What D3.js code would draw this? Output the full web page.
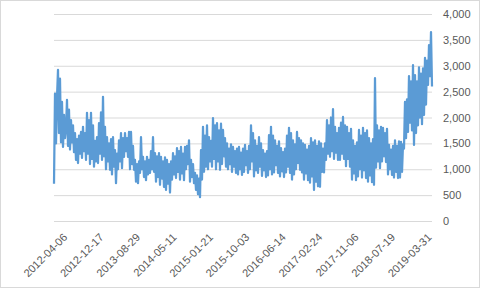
<!DOCTYPE html>
<html>
<head>
<meta charset="utf-8">
<script src="https://cdn.jsdelivr.net/npm/d3@7"></script>
<style>
  html, body { margin: 0; padding: 0; background: #fff; }
  svg { display: block; font-family: "Liberation Sans", Arial, sans-serif; }
</style>
</head>
<body>
<div class="chart-container"></div>
<script>
// Weekly readings, first week 2012-04-06
var startDate = "2012-04-06";
var weeklyValues = [
    720, 2460, 1500, 2380,
    2920, 1700, 2750, 1520,
    2300, 1430, 2050, 1600,
    1780, 2340, 1450, 2150,
    1380, 1950, 1520, 1850, 1330,
    1700, 1180, 1580, 1120, 1650, 1300, 1720,
    1220, 1820, 1350, 1700,
    1180, 2090, 1300, 1950,
    1100, 2090, 1200, 1850,
    1050, 1550, 1150, 1620,
    1120, 1890, 1300, 2100, 1180,
    2400, 1250, 1820,
    1000, 1620, 1150, 1500, 990, 1580,
    900, 1620, 1050, 1370, 730, 1300,
    1000, 1560, 1150, 1700, 1020, 1600,
    1240, 1700, 1350, 1600, 1240, 1720,
    1000, 1720, 1100, 1450, 990,
    1180, 760, 1100, 730, 1150,
    930, 1620, 1000,
    1240, 850, 1150, 790, 1240, 900, 1180,
    930, 1350, 1000, 1620,
    950, 1310, 760, 1250, 850, 1310,
    700, 1240, 820, 1150, 660, 1230,
    600, 1180, 720, 1100, 550, 1150,
    800, 1310, 900, 1250,
    830, 1410, 950, 1350,
    800, 1430, 920, 1300, 790, 1430,
    1000, 1450, 1100, 1560,
    760, 1180, 850, 1100, 730,
    930, 600, 880, 520, 820,
    460, 1370, 800,
    1820, 950, 1650, 1050, 1850,
    1000, 1620, 1150, 1550,
    1050, 1990, 1200, 1850,
    1000, 1890, 1150, 1750, 990, 1880,
    1100, 1760, 1250, 1600, 1050,
    1500, 1000, 1400, 1100, 1480,
    950, 1430, 1050, 1350, 930, 1400,
    900, 1430, 1000, 1320, 890, 1400,
    950, 1470, 1080, 1350, 930, 1450,
    1000, 1850, 1150, 1700,
    860, 1560, 980, 1450,
    930, 1620, 1050, 1500,
    870, 1370, 980, 1300, 850, 1350,
    880, 1660, 1000, 1820, 900, 1650,
    940, 1560, 1080, 1450, 930, 1540,
    860, 1410, 960, 1330, 850, 1400,
    940, 1650, 1050, 1800, 930, 1700,
    800, 1560, 900, 1480,
    1000, 1720, 1120, 1600, 990, 1560,
    940, 1500,
    800, 1470, 920, 1380, 790, 1450,
    740, 1600, 860, 1520,
    600, 1560, 760, 1450, 670, 1540,
    660, 1500, 950, 1400, 940, 1500,
    1180, 1950, 1300, 1850,
    1240, 2000, 1350, 2160,
    1200, 1820, 1320, 1700, 1180, 1800,
    1180, 1900, 1300, 2010, 1200, 1850,
    1060, 1820, 1200, 1700, 1050, 1780,
    800, 1560, 920, 1450, 790, 1520,
    860, 1760, 1000, 1650,
    840, 1800, 980, 1700, 830, 1750,
    760, 1600, 880, 1500, 750, 1580,
    700, 2760,
    1030, 1850, 1150, 1750, 1020, 1820,
    1150, 1800, 1250, 1700, 1140, 1780,
    900, 1470, 1000, 1380, 890, 1450,
    840, 1560, 950, 1450, 830, 1540,
    840, 1530, 950, 1480,
    1400, 2300, 1600, 2350,
    1720, 2800, 1900, 2700, 1750, 3010,
    1470, 2820, 1700, 2700,
    1850, 2970, 2000, 2850, 1870, 2950,
    2050, 3150, 2250, 3100,
    2630, 3400, 2800, 3650, 2600
];
var tickLabels = ["2012-04-06", "2012-12-17", "2013-08-29", "2014-05-11", "2015-01-21",
    "2015-10-03", "2016-06-14", "2017-02-24", "2017-11-06", "2018-07-19", "2019-03-31"];
var yTicks = [0, 500, 1000, 1500, 2000, 2500, 3000, 3500, 4000];

var W = 480, H = 288;
var plot = {left: 54, right: 432, top: 14, bottom: 221};

var parseDate = d3.utcParse("%Y-%m-%d");
var t0 = parseDate(startDate);
var data = weeklyValues.map(function(v, i) {
    return {date: d3.utcDay.offset(t0, i * 7), value: v};
});

var x = d3.scaleUtc()
    .domain(d3.extent(data, function(d) { return d.date; }))
    .range([plot.left, plot.right]);
var y = d3.scaleLinear()
    .domain([0, 4000])
    .range([plot.bottom, plot.top]);

var svg = d3.select(".chart-container").append("svg")
    .attr("width", W)
    .attr("height", H);

// chart border
svg.append("rect")
    .attr("x", 0.5).attr("y", 0.5)
    .attr("width", W - 1).attr("height", H - 1)
    .attr("fill", "#fff")
    .attr("stroke", "#d9d9d9");

// gridlines + right-side labels
var yAxis = d3.axisRight(y)
    .tickValues(yTicks)
    .tickSize(-(plot.right - plot.left))
    .tickPadding(11)
    .tickFormat(d3.format(","));
var gy = svg.append("g")
    .attr("transform", "translate(" + plot.right + ",0)")
    .call(yAxis);
gy.select(".domain").remove();
gy.selectAll(".tick line").attr("stroke", "#d9d9d9");
gy.selectAll(".tick text")
    .attr("fill", "#595959")
    .attr("font-size", "11px");

// line
var line = d3.line()
    .x(function(d) { return x(d.date); })
    .y(function(d) { return y(d.value); });
svg.append("path")
    .datum(data)
    .attr("fill", "none")
    .attr("stroke", "#5b9bd5")
    .attr("stroke-width", 2.25)
    .attr("stroke-linejoin", "round")
    .attr("d", line);

// rotated date labels
svg.append("g").selectAll("text")
    .data(tickLabels)
    .join("text")
    .attr("transform", function(d) {
        return "translate(" + (x(parseDate(d)) + 14) + ",238) rotate(-45)";
    })
    .attr("text-anchor", "end")
    .attr("fill", "#595959")
    .attr("font-size", "11px")
    .text(function(d) { return d; });
</script>
</body>
</html>
